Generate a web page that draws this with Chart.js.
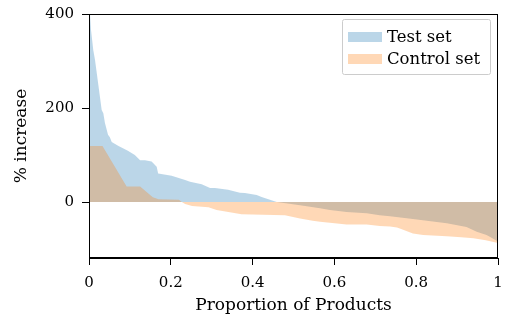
<!DOCTYPE html>
<html>
<head>
<meta charset="utf-8">
<script src="https://cdn.jsdelivr.net/npm/chart.js@4"></script>
<style>
html,body{margin:0;padding:0;background:#fff;}
#wrap{width:505px;height:316px;}
</style>
</head>
<body>
<div id="wrap"><canvas id="c" width="505" height="316"></canvas></div>
<script>
// Data
const seriesNames = ["Test set", "Control set"];
const testX = [0, 0.0024, 0.0049, 0.0105, 0.0147, 0.0227, 0.031, 0.035, 0.039, 0.0465, 0.051, 0.0555, 0.071, 0.095, 0.112, 0.125, 0.137, 0.153, 0.1655, 0.169, 0.202, 0.235, 0.247, 0.2755, 0.296, 0.308, 0.34, 0.369, 0.381, 0.41, 0.422, 0.459, 0.516, 0.565, 0.589, 0.63, 0.679, 0.711, 0.736, 0.792, 0.875, 0.923, 0.948, 0.972, 0.98, 1.0];
const testY = [440, 400, 366, 323, 302, 250, 196, 189, 168, 143, 138, 128, 120, 109, 100, 89, 89, 86, 75, 61, 56, 47, 43, 38, 30, 30, 26, 20, 19, 15, 11, 0, -7, -13, -17, -21, -24, -28, -30, -36, -45, -53, -63, -70, -74, -84];
const controlX = [0, 0.033, 0.092, 0.125, 0.156, 0.17, 0.22, 0.227, 0.235, 0.252, 0.292, 0.312, 0.373, 0.479, 0.516, 0.547, 0.565, 0.63, 0.679, 0.711, 0.736, 0.753, 0.76, 0.792, 0.817, 0.875, 0.91, 0.94, 0.97, 1.0];
const controlY = [119, 119, 33, 33, 10, 6, 5, 0, -4, -8.5, -11, -17, -26, -28, -35, -40, -42, -48, -48, -51, -52, -54, -56, -67, -70, -73, -75, -77, -81, -87];
const xTicks = [0, 0.2, 0.4, 0.6, 0.8, 1];
const yTicks = [0, 200, 400];

const FONT = "'DejaVu Serif', serif";
const FS_TICK = 15;
const FS_TEXT = 17;
const blueFill = 'rgba(31,119,180,0.3)';
const orangeFill = 'rgba(255,127,14,0.3)';

function pts(xs, ys){ return xs.map((x,i)=>({x:x, y:ys[i]})); }

const framePlugin = {
  id: 'frame',
  afterDraw(chart){
    const {ctx, chartArea:a} = chart;
    ctx.save();
    ctx.strokeStyle = '#000';
    ctx.lineWidth = 1;
    ctx.strokeRect(Math.round(a.left)+0.5, Math.round(a.top)+0.5, Math.round(a.right-a.left)-1, Math.round(a.bottom-a.top)-1);
    // legend
    const lx = 342.5, ly = 19.5, lw = 148, lh = 55;
    ctx.fillStyle = 'rgba(255,255,255,0.8)';
    ctx.strokeStyle = '#cccccc';
    ctx.beginPath();
    if (ctx.roundRect) ctx.roundRect(lx, ly, lw, lh, 2); else ctx.rect(lx, ly, lw, lh);
    ctx.fill(); ctx.stroke();
    const items = [[seriesNames[0], blueFill, 37], [seriesNames[1], orangeFill, 59]];
    ctx.font = '16.5px ' + FONT;
    ctx.textBaseline = 'middle';
    items.forEach(([t, c, y])=>{
      ctx.fillStyle = c;
      ctx.fillRect(348, y-5, 34, 10);
      ctx.fillStyle = '#000';
      ctx.fillText(t, 387, y+1);
    });
    ctx.restore();
  }
};

new Chart(document.getElementById('c'), {
  type: 'line',
  data: {
    datasets: [
      {label: seriesNames[0], data: pts(testX, testY), backgroundColor: blueFill, borderColor: 'rgba(0,0,0,0)', borderWidth: 0, pointRadius: 0, fill: 'origin', tension: 0, order: 2},
      {label: seriesNames[1], data: pts(controlX, controlY), backgroundColor: orangeFill, borderColor: 'rgba(0,0,0,0)', borderWidth: 0, pointRadius: 0, fill: 'origin', tension: 0, order: 1}
    ]
  },
  options: {
    responsive: false,
    animation: false,
    events: [],
    layout: {padding: {left: 0, top: 14, right: 7, bottom: 0}},
    plugins: {legend: {display: false}, tooltip: {enabled: false}},
    scales: {
      x: {
        type: 'linear', min: 0, max: 1,
        afterBuildTicks(s){ s.ticks = xTicks.map(v=>({value:v})); },
        afterFit(s){ s.height = 58; s.paddingLeft = 0; s.paddingRight = 0; },
        grid: {display: true, drawOnChartArea: false, drawTicks: true, tickLength: 7, color: '#000', tickColor: '#000'},
        border: {display: true, color: '#000'},
        ticks: {color: '#000', font: {family: FONT, size: FS_TICK}, padding: 9, maxRotation: 0, callback: v => String(v)},
        title: {display: true, text: 'Proportion of Products', color: '#000', font: {family: FONT, size: FS_TEXT}, padding: {top: 9, bottom: 0}}
      },
      y: {
        type: 'linear', min: -119, max: 400,
        afterBuildTicks(s){ s.ticks = yTicks.map(v=>({value:v})); },
        afterFit(s){ s.width = 89; s.paddingTop = 0; s.paddingBottom = 0; },
        grid: {display: true, drawOnChartArea: false, drawTicks: true, tickLength: 7, color: '#000', tickColor: '#000'},
        border: {display: true, color: '#000'},
        ticks: {color: '#000', font: {family: FONT, size: FS_TICK}, padding: 8, callback: v => String(v)},
        title: {display: true, text: '% increase', color: '#000', font: {family: FONT, size: FS_TEXT}, padding: {top: 11, bottom: 0}}
      }
    }
  },
  plugins: [framePlugin]
});
</script>
</body>
</html>
